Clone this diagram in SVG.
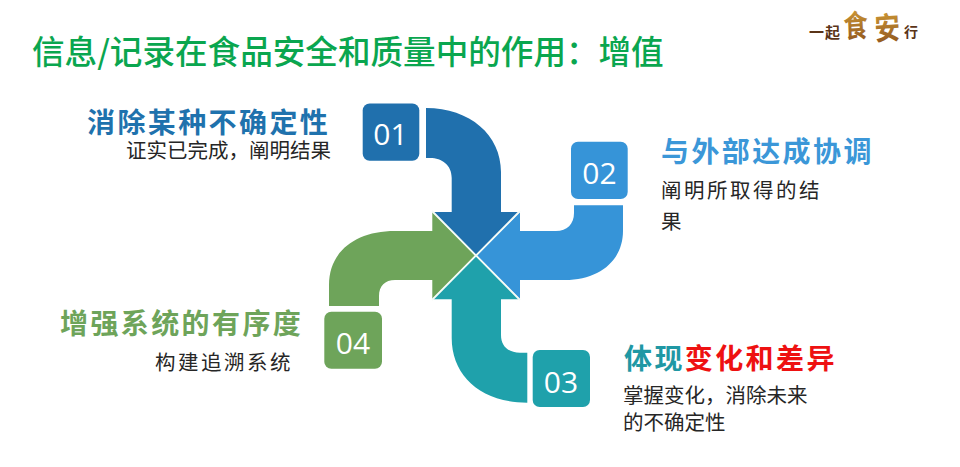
<svg xmlns="http://www.w3.org/2000/svg" width="960" height="467" viewBox="0 0 960 467">
<style>
text{font-family:"Noto Sans CJK SC","Liberation Sans",sans-serif}
.num{font-family:"Open Sans","Liberation Sans",sans-serif;font-size:30px;fill:#fff;text-anchor:middle}
.h{font-size:28px;font-weight:700;letter-spacing:2.4px}
.b{font-size:20.500px;fill:#262626}
.w{letter-spacing:2.500px}
.lg{font-weight:700}
</style>
<defs><linearGradient id="g" x1="0" y1="0" x2="0" y2="1"><stop offset="0" stop-color="#d9a53a"/><stop offset="1" stop-color="#8a4f1c"/></linearGradient></defs>
<rect width="960" height="467" fill="#fff"/>
<text x="32" y="64" font-size="32.600" font-weight="500" fill="#0aa64f" id="title">信息/记录在食品安全和质量中的作用：增值</text>
<g id="logo" fill="url(#g)" class="lg">
<text x="809" y="38" font-size="15" letter-spacing="1" fill="#5a3418">一起</text>
<text font-size="31" transform="translate(844 38) scale(.78 1) rotate(-3)">食</text>
<text font-size="31" transform="translate(875 40) scale(.82 1) rotate(-3)">安</text>
<text x="904" y="37" font-size="14" fill="#5a3418">行</text>
</g>
<g id="connectors">
<path id="arrow1" fill="#2070ad" d="M426 108C470 108 501 135 501 172V212H519.300L476 255L432.700 212H451.700V178C451.700 165 442 158 430 158H426Z"/>
<path id="arrow2" fill="#3694d8" d="M623 205.300V231C623 260 600 280 565 280H520V299.300L477 255.500L520 212V231H556C567 231 574 224 574 213V205.300Z"/>
<path id="arrow3" fill="#1fa1ab" d="M527.300 402.700C480 402.700 451.700 375 451.700 338V299.300H432.700L476 256L519.300 299.300H501V335C501 346 508 352.700 520 352.700H527.300Z"/>
<path id="arrow4" fill="#6ea45a" d="M329 306V285C329 252 355 231 395 231H432.300V212L475 255.500L432.300 299.300V280H395C385 280 379 286 379 296V306Z"/>
<path d="M432 211L520 300M520 211L432 300" stroke="#f4fbf6" stroke-width="1.800" fill="none"/>
</g>
<g id="node1"><rect x="362.700" y="103.500" width="56.600" height="57.200" rx="7" fill="#2070ad"/><text class="num" x="390.500" y="145">01</text>
<text class="h" x="87" y="133" fill="#1f72ad">消除某种不确定性</text><text class="b" x="126" y="158">证实已完成，阐明结果</text></g>
<g id="node2"><rect x="571" y="141.700" width="56.700" height="57.300" rx="7" fill="#3694d8"/><text class="num" x="599.500" y="184">02</text>
<text class="h" x="661" y="162" fill="#3b97d8">与外部达成协调</text><text class="b w" x="661" y="198">阐明所取得的结</text><text class="b" x="661" y="229">果</text></g>
<g id="node3"><rect x="532.700" y="350" width="57.300" height="57" rx="7" fill="#1fa1ab"/><text class="num" x="561" y="393">03</text>
<text class="h" x="624" y="369"><tspan fill="#1f98a4">体现</tspan><tspan fill="#ee1111">变化和差异</tspan></text><text class="b" x="623" y="403">掌握变化，消除未来</text><text class="b" x="623" y="430">的不确定性</text></g>
<g id="node4"><rect x="324.300" y="311.700" width="57.700" height="57" rx="7" fill="#6ea45a"/><text class="num" x="353" y="354">04</text>
<text class="h" x="60" y="334" fill="#6ea45a">增强系统的有序度</text><text class="b w" x="155" y="370">构建追溯系统</text></g>
</svg>
